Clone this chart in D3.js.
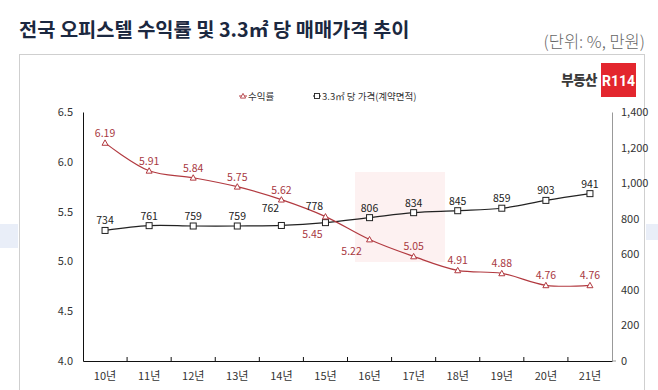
<!DOCTYPE html>
<html><head><meta charset="utf-8">
<script src="https://cdn.jsdelivr.net/npm/d3@7"></script>
<style>
html,body{margin:0;padding:0;background:#fff;}
svg{display:block;font-family:"Noto Sans CJK KR","Noto Sans",sans-serif;}
</style></head><body>
<svg id="c" width="658" height="390"></svg>
<script>
const categories = ["10년","11년","12년","13년","14년","15년","16년","17년","18년","19년","20년","21년"];
const yieldValues = [6.19,5.91,5.84,5.75,5.62,5.45,5.22,5.05,4.91,4.88,4.76,4.76];
const priceValues = [734,761,759,759,762,778,806,834,845,859,903,941];
const leftTicks = [4.0,4.5,5.0,5.5,6.0,6.5];
const rightTicks = [0,200,400,600,800,1000,1200,1400];
const seriesNames = ["수익률","3.3㎡ 당 가격(계약면적)"];
const titleText = "전국 오피스텔 수익률 및 3.3㎡ 당 매매가격 추이";
const unitText = "(단위: %, 만원)";

// label nudges (styling only)
const yieldLabelNudge = {5:[-13,27], 6:[-18,22]};
const priceLabelNudge = {4:[-11,-7], 5:[-11,-7]};

const svg = d3.select("#c");
const RED = "#b23a40", RED_T = "#a8383f", DARK = "#222";

// side bands
svg.append("rect").attr("x",0).attr("y",224).attr("width",18).attr("height",24).attr("fill","#e9eef8");
svg.append("rect").attr("x",646).attr("y",224).attr("width",12).attr("height",16).attr("fill","#e9eef8");
// panel
svg.append("rect").attr("x",19.5).attr("y",54.5).attr("width",625).attr("height",400)
  .attr("fill","#fff").attr("stroke","#cfcfcf");

// title
svg.append("text").attr("x",19).attr("y",37).attr("font-size",19.8).attr("font-weight",700)
  .attr("fill","#1b2840").text(titleText);
svg.append("text").attr("x",645).attr("y",48).attr("text-anchor","end").attr("font-size",16.5)
  .attr("font-weight",300).attr("fill","#666").text(unitText);

// logo
svg.append("text").attr("x",597).attr("y",85).attr("text-anchor","end").attr("font-size",13.5)
  .attr("font-weight",900).attr("fill","#3a3a3a").attr("letter-spacing",-0.5).text("부동산");
svg.append("rect").attr("x",601).attr("y",63).attr("width",35).attr("height",34).attr("fill","#e3262e");
svg.append("text").attr("x",618.5).attr("y",86).attr("text-anchor","middle").attr("font-size",14)
  .attr("font-weight",700).attr("fill","#fff").attr("font-family","Roboto, sans-serif").text("R114");

const m = {l:83, r:612, t:112, b:361};
const x = d3.scaleBand().domain(categories).range([m.l,m.r]);
const yL = d3.scaleLinear().domain([4.0,6.5]).range([m.b,m.t]);
const yR = d3.scaleLinear().domain([0,1400]).range([m.b,m.t]);

// watermark (shape only)
svg.append("rect").attr("x",355).attr("y",172).attr("width",90).attr("height",90)
  .attr("fill","#fbe3e4").attr("opacity",0.5);

// legend
const lg = svg.append("g").attr("font-size",9.5).attr("fill","#333");
function triPath(cx,cy,s){return `M${cx},${cy-s}L${cx+s},${cy+s*0.8}L${cx-s},${cy+s*0.8}Z`;}
lg.append("line").attr("x1",239).attr("x2",247).attr("y1",96).attr("y2",96).attr("stroke",RED);
lg.append("path").attr("d",triPath(243,96,2.6)).attr("fill","#fff").attr("stroke",RED).attr("stroke-width",0.9);
lg.append("text").attr("x",248).attr("y",99.5).text(seriesNames[0]);
lg.append("line").attr("x1",313).attr("x2",321).attr("y1",96).attr("y2",96).attr("stroke",DARK);
lg.append("rect").attr("x",314.5).attr("y",93.5).attr("width",5).attr("height",5).attr("fill","#fff").attr("stroke",DARK).attr("stroke-width",0.9);
lg.append("text").attr("x",322).attr("y",99.5).text(seriesNames[1]);

// axes
const axL = svg.append("g").attr("transform",`translate(${m.l},0)`)
  .call(d3.axisLeft(yL).tickValues(leftTicks).tickFormat(d3.format(".1f")).tickSize(0).tickPadding(10));
axL.select(".domain").attr("stroke","#111");
const axR = svg.append("g").attr("transform",`translate(${m.r},0)`)
  .call(d3.axisRight(yR).tickValues(rightTicks).tickFormat(d3.format(",")).tickSize(0).tickPadding(9));
axR.select(".domain").attr("stroke","#999");
const axB = svg.append("g").attr("transform",`translate(0,${m.b})`)
  .call(d3.axisBottom(x).tickSize(0).tickPadding(11));
axB.select(".domain").attr("stroke","#111");
[axL,axR,axB].forEach(a=>a.selectAll("text").attr("font-size",11).attr("fill","#333")
  .attr("font-family","'Noto Sans CJK KR',sans-serif"));
// inner ticks at band edges
svg.append("g").selectAll("line").data(categories.slice(1)).join("line")
  .attr("x1",d=>x(d)).attr("x2",d=>x(d)).attr("y1",m.b).attr("y2",m.b-4).attr("stroke","#111");
svg.append("line").attr("x1",m.r).attr("x2",m.r+4).attr("y1",m.b).attr("y2",m.b).attr("stroke","#999");

const cx = d => x(d) + x.bandwidth()/2;
const curve = d3.curveCatmullRom.alpha(0.5);

// price line
const pLine = d3.line().x((d,i)=>cx(categories[i])).y(d=>yR(d)).curve(curve);
svg.append("path").datum(priceValues).attr("d",pLine).attr("fill","none").attr("stroke",DARK).attr("stroke-width",1.2);
// yield line
const yLine = d3.line().x((d,i)=>cx(categories[i])).y(d=>yL(d)).curve(curve);
svg.append("path").datum(yieldValues).attr("d",yLine).attr("fill","none").attr("stroke",RED).attr("stroke-width",1.2);

// markers
svg.append("g").selectAll("rect").data(priceValues).join("rect")
  .attr("x",(d,i)=>cx(categories[i])-3).attr("y",d=>yR(d)-3).attr("width",6).attr("height",6)
  .attr("fill","#fff").attr("stroke",DARK).attr("stroke-width",1);
svg.append("g").selectAll("path").data(yieldValues).join("path")
  .attr("d",(d,i)=>triPath(cx(categories[i]),yL(d),3))
  .attr("fill","#fff").attr("stroke",RED).attr("stroke-width",1);

// labels
svg.append("g").selectAll("text").data(priceValues).join("text")
  .attr("x",(d,i)=>cx(categories[i])+(priceLabelNudge[i]?priceLabelNudge[i][0]:0))
  .attr("y",(d,i)=>yR(d)-6+(priceLabelNudge[i]?priceLabelNudge[i][1]:0))
  .attr("text-anchor","middle").attr("font-size",10.5).attr("fill","#222").text(d=>d);
svg.append("g").selectAll("text").data(yieldValues).join("text")
  .attr("x",(d,i)=>cx(categories[i])+(yieldLabelNudge[i]?yieldLabelNudge[i][0]:0))
  .attr("y",(d,i)=>yL(d)-6+(yieldLabelNudge[i]?yieldLabelNudge[i][1]:0))
  .attr("text-anchor","middle").attr("font-size",10.5).attr("fill",RED_T).text(d=>d.toFixed(2));
</script>
</body></html>
